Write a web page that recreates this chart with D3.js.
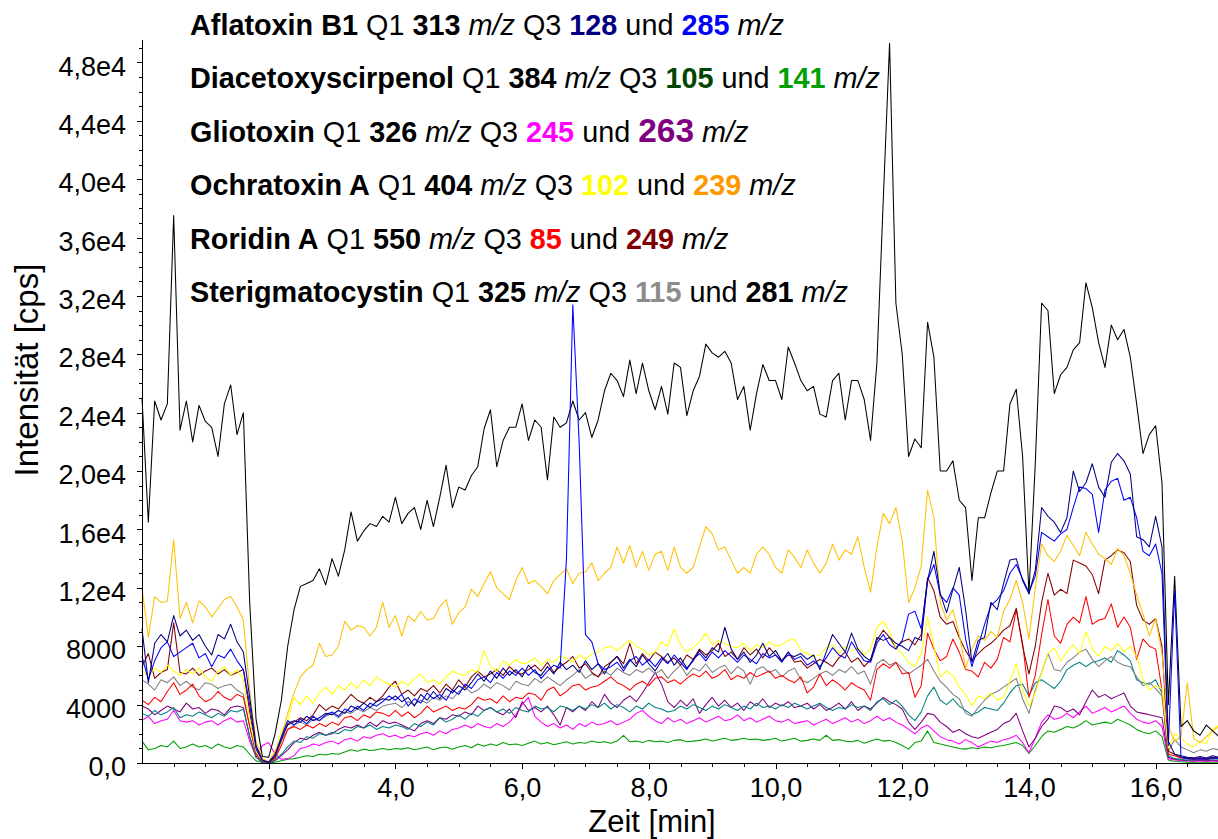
<!DOCTYPE html>
<html>
<head>
<meta charset="utf-8">
<script src="https://cdn.jsdelivr.net/npm/d3@7"></script>
<style>
  html, body { margin: 0; padding: 0; background: #fff; }
  svg { display: block; font-family: "Liberation Sans", Arial, Helvetica, sans-serif; }
  text { white-space: pre; }
</style>
</head>
<body>
<svg id="chart" width="1218" height="839"></svg>
<script>
// MRM traces, intensity in cps, sampled every 0.1 min from 0.0 to 17.0 min
const sampleStart = 0.0;
const sampleStep = 0.1;

// Aflatoxin B1 313 -> 128
const afla128 = [
  9200,5500,8200,8800,8300,10100,8700,9100,8400,8800,
  8000,7400,8800,8500,9500,8300,7600,4500,1200,200,
  50,600,1600,2700,2900,2800,3200,2900,3100,3400,
  3300,3600,3400,3900,3700,4100,3800,4200,4400,4300,
  4600,4200,4500,3900,4700,4300,4900,4400,5100,4800,
  5300,5000,5500,6100,5600,6300,5800,6500,6000,6400,
  5900,6700,6200,6000,6600,6100,6900,6400,6700,6200,
  7000,6400,6800,6100,6900,7300,6500,7100,6600,7400,
  6800,6300,7000,7500,6700,7200,6500,7000,7700,7200,
  7900,7600,9300,7800,7100,7600,6900,7400,8200,7300,
  7700,7000,7400,7300,7500,7100,7400,6400,7600,8800,
  8200,7600,8900,7800,7300,7000,8600,8400,8600,8200,
  8000,7700,8600,8400,12500,14500,11600,10300,11900,13400,
  10500,6900,8400,8600,11000,10500,12300,13900,14000,12500,
  11600,13200,17500,16900,16500,15800,16800,20000,18600,19200,
  20500,18900,18200,20600,21200,20700,19800,15500,15300,14800,
  16900,14800,1500,600,500,400,350,450,350,500,
  400
];
// Aflatoxin B1 313 -> 285
const afla285 = [
  7300,5700,7000,7900,8300,7300,7600,7900,8200,7200,
  7500,6600,7400,7200,7800,7000,6400,4000,1000,150,
  50,500,1800,2900,2600,3000,2700,3200,2900,3300,
  3500,3200,3700,3500,3900,3600,4100,3900,4200,4600,
  4300,4700,3900,4400,4100,4800,4400,4700,4300,5000,
  4700,5400,5100,5700,5900,5500,6200,5800,6300,6000,
  6500,6000,6400,5800,6300,6700,6500,14000,31400,22000,
  8800,8300,6800,6400,6600,6900,6300,7000,7300,6700,
  7100,6600,7200,6800,7400,6900,6400,7100,7500,7000,
  7600,7200,7700,7300,6900,7400,7100,6800,7500,7200,
  7400,6900,7600,7100,7300,6700,7000,6600,7200,7900,
  7400,7200,8300,7600,7000,6900,8200,8800,8100,7800,
  8400,10200,10400,9200,12500,13600,11500,11000,12000,11500,
  8500,6600,8000,9500,10800,11200,11800,13000,13600,12600,
  11700,12800,15800,15500,15200,15700,16000,17500,18900,18800,
  18400,15800,18700,19300,19500,18000,18200,16800,14500,14200,
  15000,13000,1200,11800,400,300,250,300,250,350,
  300
];
// Diacetoxyscirpenol 384 -> 105
const das105 = [
  3400,3200,3600,3300,3500,3800,3100,3300,3200,3500,
  3300,3100,3400,3200,3600,3500,3700,1800,400,50,
  20,200,600,1100,1500,1400,1800,1700,2000,1900,
  2100,2000,2300,2200,2500,2400,2600,2300,2500,2400,
  2600,2500,2300,2700,2500,2800,2600,3100,2800,3000,
  3300,3000,3400,3200,3600,3800,3500,3700,3400,3800,
  3600,3500,3900,3700,3800,3500,3900,3800,3600,3900,
  3700,4000,3800,4100,3700,4000,3800,3500,3900,3700,
  4100,3800,3700,3500,3600,3900,3700,4000,3800,3600,
  3900,3700,4000,3800,3600,3900,3700,4100,3800,3900,
  3700,4000,3800,4100,3900,3700,3900,4100,3800,3600,
  3800,3700,4000,3800,3900,3600,4200,4400,4000,4300,
  3900,3300,2900,3500,4600,5200,4300,4000,4400,3900,
  3600,3300,3500,3800,3700,3600,4100,4800,5300,5400,
  4600,5500,5700,5400,5100,5600,6400,6700,6900,6600,
  6900,7000,7200,6900,7700,7400,7000,5700,5500,5400,
  5700,4800,500,300,250,200,200,250,200,300,
  250
];
// Diacetoxyscirpenol 384 -> 141
const das141 = [
  1500,900,1000,1200,1100,1500,1000,1100,1300,1100,
  1200,1000,1300,1100,1000,1200,1100,600,150,30,
  10,50,150,250,300,400,500,450,600,550,
  650,600,750,900,800,950,850,900,1000,900,
  1000,950,1050,900,1000,1100,900,1050,1100,950,
  1100,1200,1050,1300,1150,1300,1200,1400,1250,1300,
  1200,1350,1500,1300,1400,1250,1350,1450,1300,1400,
  1350,1500,1400,1450,1350,1500,1900,1450,1500,1400,
  1550,1450,1500,1400,1550,1600,1450,1500,1550,1650,
  1500,1600,1700,1550,1600,1700,1600,1650,1550,1600,
  1700,1500,1600,1700,1500,1550,1650,1550,1900,1550,
  1600,1500,1450,1550,1350,1500,1650,1500,1550,1400,
  1200,950,1400,1500,2200,1400,1300,1200,1100,1000,
  950,1050,1000,1100,1050,1150,1200,1300,1400,1200,
  650,1200,1800,2200,2100,2300,2500,2400,2600,2900,
  2600,2700,2800,2700,3000,2800,2600,2300,2100,2000,
  2200,1800,200,100,80,60,50,60,50,60,
  50
];
// Gliotoxin 326 -> 245
const glio245 = [
  2900,3200,2700,2900,3000,3600,2900,2800,2900,2600,
  2800,2900,2600,2900,3100,2800,2900,1500,400,1200,
  1400,600,250,300,500,1000,1100,1300,1200,1400,
  1500,1300,1600,1700,1500,1800,1700,1900,2000,1800,
  1900,1700,1900,1800,2000,2100,1900,2200,2000,2300,
  2400,2600,2400,2700,2500,2400,2700,2500,2800,3300,
  4000,4500,3200,2800,2500,2700,2400,2600,2300,2700,
  2500,2800,2600,2700,2900,2600,2800,3000,3400,3600,
  3200,2900,2700,3100,2800,3000,2700,2900,3100,2800,
  3000,3200,2900,3000,3300,2900,3100,2800,3000,3200,
  2900,2800,3000,2700,2800,2900,2600,2800,3000,2700,
  2900,3100,2800,3000,2700,2900,3200,2900,3100,2800,
  2600,2300,2000,2400,2600,2200,1800,1600,1500,1300,
  1600,1400,1100,1300,1500,1400,1600,1700,1900,1400,
  700,1700,2800,3300,3000,3100,3400,3100,3500,3900,
  3400,3600,3800,3500,3700,3900,3400,3000,2800,2700,
  2900,2500,300,200,150,150,100,150,100,150,
  100
];
// Gliotoxin 326 -> 263
const glio263 = [
  3900,3700,3300,3600,3900,3700,3500,4100,3700,3800,
  3400,3700,3600,3300,3800,3900,3800,1800,400,50,
  20,150,500,900,1400,1700,1600,1900,2100,1900,
  2000,2300,2500,2400,2600,2400,2800,2500,2900,2700,
  2800,2600,2400,2200,2700,2900,2700,3100,3000,3300,
  3200,3500,3300,3900,3600,3800,3500,3300,3700,3100,
  4200,3600,3800,3500,3900,3300,2600,3800,3500,3900,
  3600,4200,3800,4700,4100,3800,4300,4600,4200,4800,
  5500,6200,5400,4200,3800,4300,3900,4400,3400,4000,
  4500,3900,4300,3800,4100,3600,4200,3900,4400,3800,
  4100,3900,4200,3800,3900,4100,3700,4000,3600,3800,
  4100,3700,4200,3600,3900,3700,4100,4500,4200,4000,
  3700,2800,2300,2800,3400,3300,2800,2500,2100,2300,
  2000,1800,1700,1900,2100,2300,2700,2900,3400,2200,
  1100,1700,2500,3000,3900,3800,3500,3700,3300,4200,
  5000,4500,4700,4400,4600,4800,3900,3500,3400,3300,
  3200,3100,400,250,200,150,150,200,150,200,
  150
];
// Ochratoxin A 404 -> 102
const ochra102 = [
  6300,6000,6500,6200,6700,6300,6000,6400,6100,6500,
  5900,5600,6300,6600,6000,6400,5700,3000,800,150,
  100,700,2200,2900,4500,4000,4600,4100,4800,5200,
  4700,5300,5000,5500,5100,5700,5300,5900,5600,5400,
  5200,5600,5300,5800,6100,5500,5700,5400,5900,6300,
  6100,6000,6400,6200,7700,6600,6300,7000,6700,7100,
  6800,6900,7200,6700,7100,6900,7300,7200,6900,7400,
  7100,7500,7600,7900,8000,7700,8100,8400,8000,7800,
  7400,7600,8300,8000,9200,8100,7600,7900,8300,8900,
  8100,8400,8200,8000,7900,8200,7700,8100,7900,8300,
  8000,8100,8400,8500,7700,7500,7300,7400,7900,8100,
  7500,8000,7700,7900,7400,7800,9300,9700,9000,7900,
  7500,6900,6600,7500,10000,8000,5900,6300,6000,5200,
  4700,3900,4600,4400,4800,4300,4500,5600,6800,5000,
  3900,4800,6200,7500,7900,7000,7600,8100,7500,9000,
  7800,7300,8000,7700,8200,7600,8000,7300,5700,5000,
  5300,5100,1000,2000,1700,1300,1100,1500,1300,2300,
  2600
];
// Ochratoxin A 404 -> 239
const ochra239 = [
  12000,8600,11400,11000,11100,15300,9900,11000,9600,11100,
  10700,10000,10600,11200,11400,10700,9800,5000,1500,300,
  100,800,1800,3400,4800,5900,6400,6700,8200,7300,
  7400,8000,9700,9100,9400,9300,8700,9300,11000,9300,
  10100,8700,10100,9700,10400,9800,9900,10700,11200,9500,
  10300,10700,11900,11400,12300,13100,12000,11600,11200,12500,
  13400,12300,12500,12100,11600,12500,12900,13300,12300,13000,
  13100,13700,12500,13000,13400,14800,13700,14900,13400,14500,
  13200,14300,14500,13200,14800,13400,13000,13400,14800,16200,
  15700,14600,14800,13900,13000,13400,13000,14300,14800,14300,
  13400,13000,14600,14100,13400,14600,13700,13000,13700,15000,
  13900,14600,14300,15500,13400,11700,14800,17100,16400,17500,
  15200,11000,12000,13500,18700,16800,11000,9800,10500,8800,
  6500,7800,8700,8400,9000,8600,10400,11200,12500,11000,
  8500,12000,15000,14200,13800,14500,15600,14900,14200,15800,
  15000,14300,14000,13600,14700,14200,13000,11500,10200,8700,
  9900,7500,2500,1500,1800,5500,1700,1400,1800,2200,
  2500
];
// Roridin A 550 -> 85
const rori85 = [
  4300,4000,4500,4200,4900,5500,4700,5000,5400,4600,
  4200,4400,4900,4500,4300,4700,4500,2500,600,100,
  50,300,1200,2300,2500,2300,2600,2400,2700,2500,
  2800,2600,3100,3200,2900,3300,3100,3500,3400,3200,
  3600,3200,3500,3100,3400,3900,3500,3700,3900,3600,
  3800,3700,4000,4500,4300,4400,4100,4600,4200,4500,
  4400,4800,4700,4300,5000,5200,4600,4900,5300,5400,
  5000,5200,5300,5600,5900,5500,5300,5000,5400,5600,
  5300,5800,5900,5500,5700,5400,5800,6100,5900,6300,
  5800,6000,6400,5700,6000,5800,6200,5900,6100,6300,
  5800,6000,5700,5500,5900,4800,5200,6100,5300,5700,
  5400,5000,5500,5200,5000,4300,6400,6800,6500,6900,
  6100,6200,4500,5300,8900,7800,7000,7300,8500,7600,
  6400,6300,5900,6900,6500,7100,8600,8300,10500,8200,
  4500,6000,8800,11200,8700,8200,9500,10000,9600,11400,
  9500,9800,9900,10900,9300,10000,9300,7100,8500,8000,
  7800,5000,600,500,350,300,250,300,250,350,
  300
];
// Roridin A 550 -> 249
const rori249 = [
  6600,7500,5800,6200,6400,9600,6200,6100,6500,6000,
  6300,6500,6100,6400,6000,6200,6400,3500,900,150,
  50,400,1700,2600,2800,3100,2900,3300,4000,3600,
  3900,3700,4200,4700,4300,4100,4500,4200,4600,5200,
  5600,4700,5000,4600,5100,4900,5300,4800,5400,5000,
  5700,5200,5900,6300,5900,6100,6400,6000,6600,6200,
  6100,6400,6700,6300,6900,6200,6600,6900,7300,6500,
  6800,6200,5900,6600,6900,7300,6800,8200,6800,7500,
  7000,7600,7300,6900,7200,6700,7400,7100,7800,7400,
  7700,8200,7300,7600,7100,7900,7400,7800,7200,7900,
  7400,7000,7600,6900,7000,6500,6800,7100,6900,6600,
  7200,7600,6900,7200,6600,7100,8400,9100,8600,7900,
  8300,8500,8100,8800,12700,11800,10000,9500,9700,8600,
  7700,7000,7500,7900,8200,8600,9100,9400,10600,8000,
  6100,8000,11000,13000,11500,11900,11600,13900,13700,13500,
  12900,11600,13900,14200,14600,14400,13800,10800,9800,9500,
  9900,8000,800,600,400,350,300,350,300,400,
  350
];
// Sterigmatocystin 325 -> 115
const sterig115 = [
  5700,5400,5000,5700,5500,5900,5300,5600,5200,5000,
  5500,5400,5100,5300,5400,5000,4700,2500,700,100,
  50,300,1500,2300,2600,2800,2600,3000,2900,3200,
  3400,3100,3500,3400,3700,3500,3800,3600,3900,4000,
  4100,3800,4200,4000,4300,4100,4500,4300,4600,4400,
  4900,5200,4800,5000,5400,5100,5500,5300,5000,5600,
  5400,5300,5800,5500,5900,5600,5300,5700,6000,6400,
  5800,6100,5900,6300,6000,6500,6200,6000,6400,6200,
  6500,6100,6400,5800,6300,6700,6000,6500,6300,6800,
  6200,6500,6700,6100,6600,6300,5400,6400,6600,6200,
  6400,5900,6300,6500,5700,5500,5800,6100,6300,6000,
  6400,6200,6600,6100,6300,5400,6800,7100,6700,6900,
  6500,6100,6400,6700,7100,6300,5600,5200,4700,4400,
  3400,3200,3800,4300,4700,4900,5200,5500,5800,4400,
  3400,5000,6200,7500,6400,6300,6900,7200,7600,7800,
  7100,6600,7000,7300,6900,6700,6600,5900,5300,5500,
  5100,4600,800,1600,1100,900,700,900,800,1000,
  900
];
// Sterigmatocystin 325 -> 281
const sterig281 = [
  25000,16500,24800,23500,24600,37500,22800,24800,22000,24500,
  23400,23000,21000,24600,25900,22500,24000,11000,3000,450,
  400,2000,4300,8000,10500,12100,12300,12500,13300,12200,
  14000,12800,14600,17200,15200,15900,16400,16200,16900,16500,
  18200,16400,17100,17500,16000,18000,16200,18200,20400,17500,
  18900,18700,19700,20300,22900,24200,20300,22100,23000,23000,
  24600,22100,23500,23000,19400,23700,23000,23300,24800,23500,
  24000,22300,23500,25500,26700,26200,25100,27600,25300,27400,
  25500,24200,25800,23900,27400,27100,23800,25500,26500,28700,
  28100,27800,28200,27400,24900,25800,22800,25300,27300,26200,
  26200,24900,28500,27400,26200,25500,25800,23900,23700,26200,
  26700,23500,26200,26200,24900,22100,27400,38500,49300,31500,
  28000,21000,22200,21600,30200,27800,20000,20000,20700,18000,
  17500,12500,16800,16800,18500,20000,20000,24600,25600,21000,
  11600,20500,31500,31000,25300,26600,27100,28300,28800,32900,
  31200,28800,27100,30000,29000,29700,27800,24600,21200,22500,
  23100,19200,4000,12800,2500,2900,2200,1900,2600,2200,
  1800
];

// Axis ticks
const xTickValues = [2, 4, 6, 8, 10, 12, 14, 16];
const xTickLabels = ["2,0", "4,0", "6,0", "8,0", "10,0", "12,0", "14,0", "16,0"];
const yTickValues = [0, 4000, 8000, 12000, 16000, 20000, 24000, 28000, 32000, 36000, 40000, 44000, 48000];
const yTickLabels = ["0,0", "4000", "8000", "1,2e4", "1,6e4", "2,0e4", "2,4e4", "2,8e4", "3,2e4", "3,6e4", "4,0e4", "4,4e4", "4,8e4"];

// Legend rows: compound, precursor ion, two product ions
const compounds = ["Aflatoxin B1", "Diacetoxyscirpenol", "Gliotoxin", "Ochratoxin A", "Roridin A", "Sterigmatocystin"];
const precursors = ["313", "384", "326", "404", "550", "325"];
const productsA = ["128", "105", "245", "102", "85", "115"];
const productsB = ["285", "141", "263", "239", "249", "281"];

// Trace colours and legend label colours
const traceColors = {
  "128": "#000080", "285": "#0000ff", "105": "#008080", "141": "#00a000",
  "245": "#ff00ff", "263": "#800080", "102": "#ffff00", "239": "#ffc000",
  "85": "#ff0000", "249": "#800000", "115": "#808080", "281": "#000000"
};
const labelColors = {
  "128": "#000080", "285": "#0000ff", "105": "#004600", "141": "#00a000",
  "245": "#ff00ff", "263": "#800080", "102": "#ffff00", "239": "#ff9900",
  "85": "#ff0000", "249": "#800000", "115": "#8c8c8c", "281": "#000000"
};

const traces = [
  { ion: "141", values: das141 },
  { ion: "245", values: glio245 },
  { ion: "263", values: glio263 },
  { ion: "105", values: das105 },
  { ion: "115", values: sterig115 },
  { ion: "85",  values: rori85 },
  { ion: "249", values: rori249 },
  { ion: "102", values: ochra102 },
  { ion: "239", values: ochra239 },
  { ion: "281", values: sterig281 },
  { ion: "285", values: afla285 },
  { ion: "128", values: afla128 }
];

const svg = d3.select("#chart");
svg.append("rect").attr("width", 1218).attr("height", 839).attr("fill", "#fff");

const x = d3.scaleLinear().domain([0, 17]).range([142, 1219]);
const y = d3.scaleLinear().domain([0, 49600]).range([763, 39]);

// Traces
const line = d3.line()
  .x((d, i) => x(sampleStart + i * sampleStep))
  .y(d => y(d));

svg.append("g")
  .selectAll("path")
  .data(traces)
  .join("path")
  .attr("d", d => line(d.values))
  .attr("fill", "none")
  .attr("stroke", d => traceColors[d.ion])
  .attr("stroke-width", 1.05)
  .attr("stroke-linejoin", "round");

// X axis: minor ticks every 0.5 min, labelled ticks every 2 min
const xMinor = d3.range(1, 34).map(k => k / 2).filter(v => !xTickValues.includes(v));
svg.append("g")
  .attr("transform", "translate(0,763)")
  .call(d3.axisBottom(x).tickValues(xMinor).tickSize(4).tickSizeOuter(0).tickFormat(""))
  .call(g => g.select(".domain").remove());
svg.append("g")
  .attr("class", "x-axis")
  .attr("transform", "translate(0,763)")
  .call(d3.axisBottom(x)
    .tickValues(xTickValues)
    .tickSize(6)
    .tickSizeOuter(0)
    .tickPadding(9)
    .tickFormat((d, i) => xTickLabels[i]));

// Y axis: minor ticks every 1000 cps
const yMinor = d3.range(1, 50).map(k => k * 1000).filter(v => !yTickValues.includes(v));
svg.append("g")
  .attr("transform", "translate(142,0)")
  .call(d3.axisLeft(y).tickValues(yMinor).tickSize(3).tickSizeOuter(0).tickFormat(""))
  .call(g => g.select(".domain").remove());
svg.append("g")
  .attr("class", "y-axis")
  .attr("transform", "translate(142,0)")
  .call(d3.axisLeft(y)
    .tickValues(yTickValues)
    .tickSize(5)
    .tickSizeOuter(0)
    .tickPadding(11)
    .tickFormat((d, i) => yTickLabels[i]));

svg.selectAll(".x-axis text, .y-axis text")
  .attr("font-family", "\"Liberation Sans\", Arial, sans-serif")
  .attr("font-size", 27)
  .attr("fill", "#000");
svg.selectAll(".y-axis text").attr("dy", "0.47em");
svg.selectAll("path.domain, .tick line").attr("stroke", "#000").attr("shape-rendering", "crispEdges");

// Axis titles
svg.append("text")
  .attr("x", 652).attr("y", 832)
  .attr("text-anchor", "middle")
  .attr("font-size", 31)
  .text("Zeit [min]");
svg.append("text")
  .attr("transform", "translate(38,370) rotate(-90)")
  .attr("text-anchor", "middle")
  .attr("font-size", 33)
  .text("Intensität [cps]");

// Legend block
const legend = svg.append("g");
compounds.forEach((name, i) => {
  const t = legend.append("text")
    .attr("x", 190)
    .attr("y", 35 + i * 53.4)
    .attr("font-size", 28.8)
    .attr("fill", "#000");
  t.append("tspan").attr("font-weight", "bold").text(name);
  t.append("tspan").text(" Q1 ");
  t.append("tspan").attr("font-weight", "bold").text(precursors[i]);
  t.append("tspan").text(" ");
  t.append("tspan").attr("font-style", "italic").text("m/z");
  t.append("tspan").text(" Q3 ");
  t.append("tspan").attr("font-weight", "bold").attr("fill", labelColors[productsA[i]]).text(productsA[i]);
  t.append("tspan").text(" und ");
  const b = t.append("tspan").attr("font-weight", "bold").attr("fill", labelColors[productsB[i]]).text(productsB[i]);
  if (productsB[i] === "263") b.attr("font-size", 33.5);
  t.append("tspan").text(" ");
  t.append("tspan").attr("font-style", "italic").text("m/z");
});
</script>
</body>
</html>
